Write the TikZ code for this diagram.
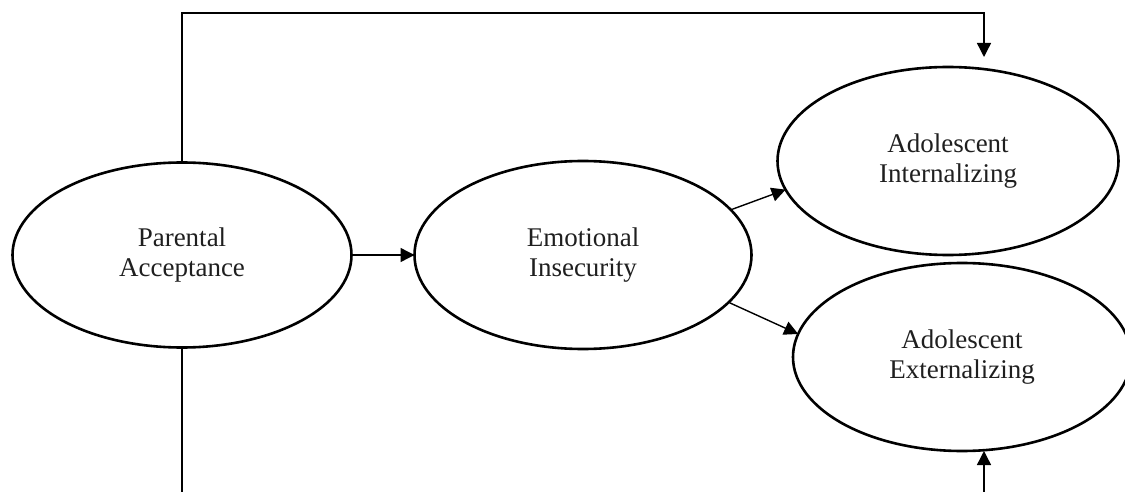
\documentclass[tikz,border=0pt]{standalone}
\usepackage{fontspec}
\setmainfont{Liberation Serif}
\usetikzlibrary{arrows.meta,shapes.geometric}
\begin{document}
\begin{tikzpicture}[x=1pt,y=-1pt,
  latent/.style={draw,ellipse,line width=2.6pt,inner sep=0pt,outer sep=0pt,
    align=center,text=black!88,font=\fontsize{27}{30}\selectfont},
  conn/.style={line width=1.4pt,-{Triangle[length=14pt,width=14pt]}},
  plain/.style={line width=1.4pt}]
\useasboundingbox (0,0) rectangle (1125,492);
\clip (0,0) rectangle (1125,492);
\node[latent,minimum width=339pt,minimum height=185pt] (pa) at (182,255) {Parental\\Acceptance};
\node[latent,minimum width=337pt,minimum height=188pt] (ei) at (583,255) {Emotional\\Insecurity};
\node[latent,minimum width=341pt,minimum height=188pt] (ai) at (948,161) {Adolescent\\Internalizing};
\node[latent,minimum width=338pt,minimum height=188pt] (ae) at (962,357) {Adolescent\\Externalizing};
\coordinate (tr) at (984,13);
\coordinate (tt) at (984,57);
\coordinate (bl) at (179,500);
\coordinate (br) at (984,500);
\coordinate (bt) at (984,451);
\draw[conn] (pa.north) |- (tr) -- (tt);
\draw[plain] (pa.south) -- (pa.south |- bl);
\draw[conn] (br) -- (bt);
\draw[conn] (pa.east) -- (ei.west);
\draw[conn] (ei.17) -- (ai.190);
\draw[conn] (ei.342) -- (ae.172);
\end{tikzpicture}
\end{document}
